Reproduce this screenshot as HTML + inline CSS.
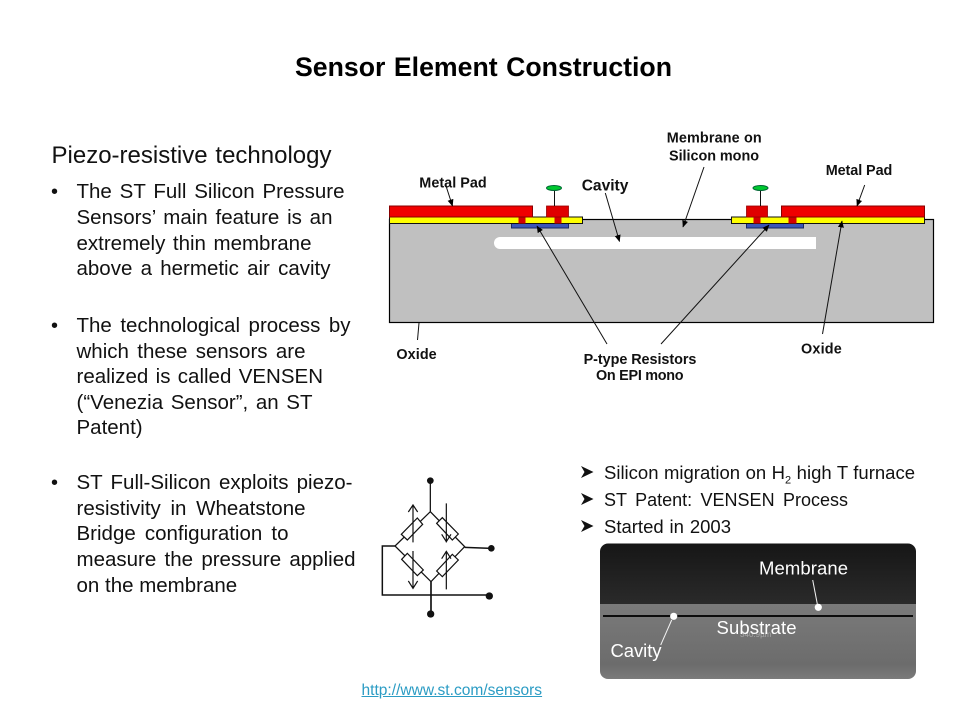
<!DOCTYPE html>
<html>
<head>
<meta charset="utf-8">
<title>Sensor Element Construction</title>
<style>
html,body{margin:0;padding:0;background:#fff;}
#p{position:relative;width:960px;height:720px;overflow:hidden;background:#fff;font-family:"Liberation Sans",Arial,sans-serif;color:#111;}
svg{position:absolute;left:0;top:0;}
.l{position:absolute;left:76.5px;height:30px;line-height:30px;font-size:20.5px;text-align:justify;text-align-last:justify;}
.n{text-align-last:left;white-space:nowrap;}
.b{position:absolute;left:51px;height:30px;line-height:30px;font-size:20px;}
.r{position:absolute;left:604px;height:30px;line-height:30px;font-size:18.5px;text-align:justify;text-align-last:justify;}
.r sub{font-size:11px;line-height:0;}
#t{position:absolute;left:295px;top:51px;width:377px;height:32px;line-height:32px;font-size:26.67px;font-weight:bold;color:#000;text-align:justify;text-align-last:justify;}
#h{position:absolute;left:51.5px;top:140px;width:280px;height:32px;line-height:32px;font-size:24px;text-align:justify;text-align-last:justify;}
#u{position:absolute;left:361.5px;top:681px;height:20px;line-height:20px;font-size:15.55px;color:#2b9cc4;text-decoration:underline;white-space:nowrap;}
</style>
</head>
<body>
<div id="p">
<svg width="960" height="720" viewBox="0 0 960 720">
<defs>
<marker id="a" markerWidth="7" markerHeight="7" refX="6.5" refY="3" orient="auto" markerUnits="userSpaceOnUse"><path d="M0,0L7,3L0,6Z" fill="#000"/></marker>
<linearGradient id="g1" x1="0" y1="0" x2="0" y2="1"><stop offset="0" stop-color="#161616"/><stop offset="1" stop-color="#2a2a2a"/></linearGradient>
<linearGradient id="g2" x1="0" y1="0" x2="0" y2="1"><stop offset="0" stop-color="#7a7a7a"/><stop offset="0.8" stop-color="#6c6c6c"/><stop offset="1" stop-color="#7c7c7c"/></linearGradient>
<clipPath id="c"><rect x="600" y="543.5" width="316" height="135.5" rx="8"/></clipPath>
</defs>

<!-- Sensor cross-section -->
<rect x="389.5" y="219.5" width="544" height="103" fill="#c0c0c0" stroke="#000" stroke-width="1.2"/>
<path d="M816,237H500a6,6 0 0 0 0,12H816Z" fill="#fff"/>
<rect x="511.5" y="223.5" width="57" height="4.5" fill="#3c56b8" stroke="#1a2a60"/>
<rect x="746.5" y="223.5" width="57" height="4.5" fill="#3c56b8" stroke="#1a2a60"/>
<rect x="389.5" y="217" width="193" height="6.5" fill="#ffff00" stroke="#111" stroke-width="1"/>
<rect x="731.5" y="217" width="193" height="6.5" fill="#ffff00" stroke="#111" stroke-width="1"/>
<rect x="518.5" y="217" width="7" height="6.5" fill="#d40000"/>
<rect x="554.5" y="217" width="7" height="6.5" fill="#d40000"/>
<rect x="753.5" y="217" width="7" height="6.5" fill="#d40000"/>
<rect x="788.5" y="217" width="8" height="6.5" fill="#d40000"/>
<rect x="389.5" y="206" width="143" height="11" fill="#f00000" stroke="#800" stroke-width="1"/>
<rect x="546.5" y="206" width="22" height="11" fill="#e00000" stroke="#900" stroke-width="0.8"/>
<rect x="746.5" y="206" width="21" height="11" fill="#e00000" stroke="#900" stroke-width="0.8"/>
<rect x="781.5" y="206" width="143" height="11" fill="#f00000" stroke="#800" stroke-width="1"/>
<line x1="554.5" y1="190" x2="554.5" y2="206" stroke="#111"/>
<line x1="760.5" y1="190" x2="760.5" y2="206" stroke="#111"/>
<ellipse cx="554" cy="188" rx="7.5" ry="2.5" fill="#00c830" stroke="#063"/>
<ellipse cx="760.5" cy="188" rx="7.5" ry="2.5" fill="#00c830" stroke="#063"/>

<!-- Leaders -->
<g stroke="#111" stroke-width="1" fill="none">
<line x1="445.7" y1="185" x2="452.5" y2="206" marker-end="url(#a)"/>
<line x1="605.3" y1="193" x2="619.5" y2="241.5" marker-end="url(#a)"/>
<line x1="607" y1="344" x2="537" y2="226" marker-end="url(#a)"/>
<line x1="661" y1="344" x2="769" y2="225" marker-end="url(#a)"/>
<line x1="704" y1="167" x2="683" y2="227" marker-end="url(#a)"/>
<line x1="864.7" y1="185" x2="857" y2="206" marker-end="url(#a)"/>
<line x1="822.5" y1="334" x2="842" y2="221" marker-end="url(#a)"/>
<line x1="419" y1="323" x2="417.5" y2="340"/>
</g>

<!-- Diagram labels -->
<g font-family="'Liberation Sans',Arial,sans-serif" font-weight="bold" font-size="14.4" fill="#111">
<text x="419.3" y="187.3" textLength="67.4">Metal Pad</text>
<text x="581.7" y="190.7" font-size="15.6" textLength="46.7">Cavity</text>
<text x="666.7" y="142.7" textLength="95">Membrane on</text>
<text x="669" y="160.7" textLength="90">Silicon mono</text>
<text x="825.7" y="175" textLength="66.6">Metal Pad</text>
<text x="396.4" y="359" textLength="40.3">Oxide</text>
<text x="801" y="353.7" textLength="40.8">Oxide</text>
<text x="583.6" y="364" textLength="112.8">P-type Resistors</text>
<text x="596" y="380" textLength="87.6">On EPI mono</text>
</g>

<!-- Wheatstone bridge -->
<g transform="translate(370,465) scale(0.3333)" stroke="#111" stroke-width="3.6" fill="none">
<path d="M181,47V140L75,243L183,350L284,245L181,140" stroke-width="3.8"/>
<path d="M284,247L364,250" stroke-width="4.5"/>
<path d="M183,350V447" stroke-width="5"/>
<path d="M75,243H37V390H358" stroke-width="4.5"/>
<g fill="#fff">
<polygon points="94,208 142,159 158,178 112,225"/>
<polygon points="200,175 217,158 265,207 247,225"/>
<polygon points="95,283 112,265 160,315 142,332"/>
<polygon points="200,318 247,268 265,285 217,335"/>
</g>
<path d="M129,232V120M115,141L129,120L143,141"/>
<path d="M229,115V232M215,208L229,230L243,208"/>
<path d="M129,258V370M115,348L129,370L143,348"/>
<path d="M229,373V258M215,281L229,259L243,281"/>
<g fill="#111" stroke="none">
<circle cx="181" cy="47" r="10"/>
<circle cx="364" cy="250" r="10"/>
<circle cx="358" cy="393" r="11"/>
<circle cx="182" cy="447" r="11"/>
</g>
</g>

<!-- Arrow bullets -->
<g fill="#111">
<path d="M581,466L593.5,472L581,478L584.5,472Z"/>
<path d="M581,493L593.5,499L581,505L584.5,499Z"/>
<path d="M581,520L593.5,526L581,532L584.5,526Z"/>
</g>

<!-- Micrograph -->
<g clip-path="url(#c)">
<rect x="600" y="543" width="316" height="61" fill="url(#g1)"/>
<rect x="600" y="604" width="316" height="76" fill="url(#g2)"/>
<line x1="603" y1="616" x2="913" y2="616" stroke="#0c0c0c" stroke-width="2"/>
</g>
<g stroke="#f4f4f4" stroke-width="1" fill="#fff">
<line x1="812.7" y1="580" x2="817.3" y2="604"/>
<line x1="671.7" y1="620" x2="660.7" y2="645"/>
<circle cx="818.3" cy="607.3" r="3.6" stroke="none"/>
<circle cx="673.7" cy="616.3" r="3.6" stroke="none"/>
</g>
<text x="755.7" y="637" font-family="'Liberation Sans',Arial,sans-serif" font-size="8" fill="#a8a8a8" text-anchor="middle">340.9µm</text>
<g font-family="'Liberation Sans',Arial,sans-serif" font-size="18.5" fill="#fff">
<text x="759" y="574.5" textLength="89">Membrane</text>
<text x="716.5" y="634" textLength="80">Substrate</text>
<text x="610.5" y="657" textLength="51">Cavity</text>
</g>
</svg>

<div id="t">Sensor Element Construction</div>
<div id="h">Piezo-resistive technology</div>

<div class="b" style="top:177px">•</div>
<div class="l" style="top:177px;width:268px">The ST Full Silicon Pressure</div>
<div class="l" style="top:203px;width:256px">Sensors’ main feature is an</div>
<div class="l" style="top:229px;width:235px">extremely thin membrane</div>
<div class="l" style="top:254px;width:254px">above a hermetic air cavity</div>

<div class="b" style="top:311px">•</div>
<div class="l" style="top:311px;width:274px">The technological process by</div>
<div class="l" style="top:337px;width:229px">which these sensors are</div>
<div class="l" style="top:362px;width:246.5px">realized is called VENSEN</div>
<div class="l" style="top:388px;width:236px">(“Venezia Sensor”, an ST</div>
<div class="l n" style="top:413px">Patent)</div>

<div class="b" style="top:468px">•</div>
<div class="l" style="top:468px;width:276px">ST Full-Silicon exploits piezo-</div>
<div class="l" style="top:494px;width:229px">resistivity in Wheatstone</div>
<div class="l" style="top:519px;width:212px">Bridge configuration to</div>
<div class="l" style="top:545px;width:279px">measure the pressure applied</div>
<div class="l n" style="top:571px">on the membrane</div>

<div class="r" style="top:458px;width:311px">Silicon migration on H<sub>2</sub> high T furnace</div>
<div class="r" style="top:485px;width:244px;font-size:18px">ST Patent: VENSEN Process</div>
<div class="r" style="top:512px;width:127px">Started in 2003</div>

<div id="u">http://www.st.com/sensors</div>
</div>
</body>
</html>
